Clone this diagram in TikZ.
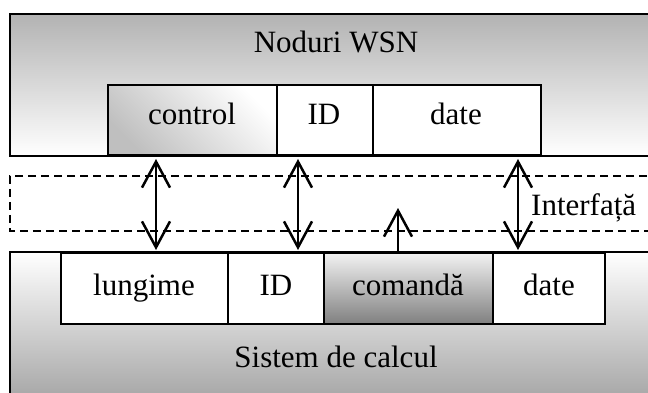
\documentclass[tikz,border=0pt]{standalone}
\usepackage{fontspec}
\setmainfont{Liberation Serif}
\usetikzlibrary{arrows.meta}
\begin{document}
\begin{tikzpicture}[x=1pt,y=-1pt,
  frame/.style={draw=black,line width=2.5pt},
  cell/.style={draw=black,line width=2.5pt,fill=white},
  lbl/.style={font=\fontsize{31}{34}\selectfont,inner sep=0pt,anchor=base},
  tip/.style={Straight Barb[length=26pt,width=28pt]},
  link/.style={line width=2.5pt,{Straight Barb[length=26pt,width=28pt]}-{Straight Barb[length=26pt,width=28pt]}},
  uplink/.style={line width=2.5pt,-{Straight Barb[length=26pt,width=28pt]}}]
\useasboundingbox (0,0) rectangle (648,393);
\clip (0,0) rectangle (648,393);
% upper block: sensor nodes
\shade[top color=black!30,bottom color=white] (10,14) rectangle (660,156);
\draw[frame] (660,14) -- (10,14) -- (10,156) -- (660,156);
\node[lbl] (wsn) at (336,53) {Noduri WSN};
\shade[shading=axis,left color=black!25,right color=white,shading angle=135] (108,85) rectangle (277,155);
\draw[frame] (108,85) rectangle (277,155);
\node[lbl] (ctl) at (192,125) {control};
\draw[cell] (277,85) rectangle (373,155);
\node[lbl] (id1) at (324,125) {ID};
\draw[cell] (373,85) rectangle (541,155);
\node[lbl] (dt1) at (456,125) {date};
% interface strip
\draw[line width=1.5pt,dash pattern=on 8pt off 5pt] (660,176) -- (10,176) -- (10,231) -- (660,231);
\node[lbl,anchor=base west] (itf) at (531,215) {Interfață};
% lower block: host computer
\shade[top color=white,bottom color=black!35] (10,252) rectangle (660,400);
\draw[frame] (660,252) -- (10,252) -- (10,400);
\draw[cell] (61,253) rectangle (228,324);
\node[lbl] (len) at (144,295) {lungime};
\draw[cell] (228,253) rectangle (324,324);
\node[lbl] (id2) at (276,295) {ID};
\shade[top color=black!5,bottom color=black!50] (324,253) rectangle (493,324);
\draw[frame] (324,253) rectangle (493,324);
\node[lbl] (cmd) at (408,295) {comandă};
\draw[cell] (493,253) rectangle (605,324);
\node[lbl] (dt2) at (549,295) {date};
\node[lbl] (sys) at (336,367) {Sistem de calcul};
% transfer arrows
\coordinate (a1t) at (156,159); \coordinate (a1b) at (156,250);
\coordinate (a2t) at (298,159); \coordinate (a2b) at (298,250);
\coordinate (a3t) at (518,159); \coordinate (a3b) at (518,250);
\coordinate (a4t) at (398,208); \coordinate (a4b) at (398,252);
\draw[link] (a1t) -- (a1b);
\draw[link] (a2t) -- (a2b);
\draw[link] (a3t) -- (a3b);
\draw[uplink] (a4b) -- (a4t);
\end{tikzpicture}
\end{document}
